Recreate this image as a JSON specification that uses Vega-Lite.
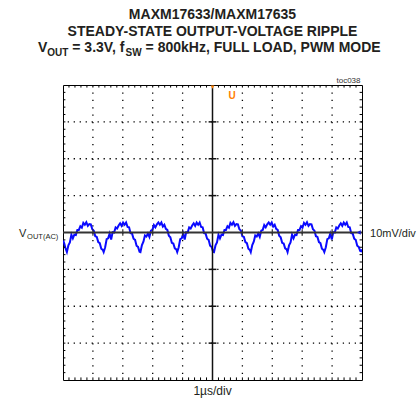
{
"$schema": "https://vega.github.io/schema/vega-lite/v6.json",
"width": 299, "height": 295,
"autosize": {"type": "none"},
"padding": {"left": 63, "top": 85, "right": 56, "bottom": 26},
"background": "#ffffff",
"config": {"view": {"stroke": "#000000", "strokeWidth": 1}},
"datasets": {
"wave": [
{"t":0,"v":-2.0},{"t":0.04,"v":-2.9},{"t":0.08,"v":-4.2},
{"t":0.13,"v":-5.3},{"t":0.18,"v":-3.5},{"t":0.23,"v":-2.7},{"t":0.28,"v":-0.6},{"t":0.33,"v":-1.6},{"t":0.38,"v":-0.6},{"t":0.43,"v":-0.7},{"t":0.48,"v":0.7},{"t":0.53,"v":0.7},{"t":0.58,"v":1.7},{"t":0.63,"v":1.3},{"t":0.68,"v":2.6},{"t":0.73,"v":2.1},{"t":0.78,"v":2.8},{"t":0.83,"v":1.8},{"t":0.88,"v":2.3},{"t":0.93,"v":2.2},{"t":0.98,"v":0.9},{"t":1.03,"v":0.5},{"t":1.08,"v":-1.0},{"t":1.13,"v":-1.2},{"t":1.18,"v":-2.6},{"t":1.23,"v":-2.9},{"t":1.28,"v":-4.4},{"t":1.33,"v":-4.7},
{"t":1.36,"v":-5.3},{"t":1.41,"v":-4.0},{"t":1.46,"v":-1.8},{"t":1.51,"v":-1.6},{"t":1.56,"v":-0.3},{"t":1.61,"v":-1.9},{"t":1.66,"v":0.1},{"t":1.71,"v":0.0},{"t":1.76,"v":1.4},{"t":1.81,"v":1.1},{"t":1.86,"v":1.9},{"t":1.91,"v":2.5},{"t":1.96,"v":1.8},{"t":2.01,"v":2.7},{"t":2.06,"v":2.1},{"t":2.11,"v":2.7},{"t":2.16,"v":1.5},{"t":2.21,"v":1.4},{"t":2.26,"v":-0.2},{"t":2.31,"v":-0.3},{"t":2.36,"v":-1.7},{"t":2.41,"v":-2.0},{"t":2.46,"v":-3.6},{"t":2.51,"v":-3.9},{"t":2.56,"v":-5.2},
{"t":2.59,"v":-5.3},{"t":2.64,"v":-3.4},{"t":2.69,"v":-2.5},{"t":2.74,"v":-0.8},{"t":2.79,"v":-1.1},{"t":2.84,"v":-0.3},{"t":2.89,"v":-1.2},{"t":2.94,"v":0.5},{"t":2.99,"v":0.7},{"t":3.04,"v":2.0},{"t":3.09,"v":1.4},{"t":3.14,"v":2.2},{"t":3.19,"v":2.7},{"t":3.24,"v":2.1},{"t":3.29,"v":2.7},{"t":3.34,"v":1.6},{"t":3.39,"v":2.1},{"t":3.44,"v":1.0},{"t":3.49,"v":0.7},{"t":3.54,"v":-0.9},{"t":3.59,"v":-1.3},{"t":3.64,"v":-2.8},{"t":3.69,"v":-3.0},{"t":3.74,"v":-4.3},{"t":3.79,"v":-4.6},
{"t":3.82,"v":-5.3},{"t":3.87,"v":-4.0},{"t":3.92,"v":-1.8},{"t":3.97,"v":-1.6},{"t":4.02,"v":-0.3},{"t":4.07,"v":-1.9},{"t":4.12,"v":0.1},{"t":4.17,"v":0.0},{"t":4.22,"v":1.4},{"t":4.27,"v":1.1},{"t":4.32,"v":1.9},{"t":4.37,"v":2.5},{"t":4.42,"v":1.8},{"t":4.47,"v":2.7},{"t":4.52,"v":2.1},{"t":4.57,"v":2.7},{"t":4.62,"v":1.5},{"t":4.67,"v":1.4},{"t":4.72,"v":-0.2},{"t":4.77,"v":-0.3},{"t":4.82,"v":-1.7},{"t":4.87,"v":-2.0},{"t":4.92,"v":-3.6},{"t":4.97,"v":-3.9},{"t":5.02,"v":-5.2},
{"t":5.05,"v":-5.3},{"t":5.10,"v":-3.5},{"t":5.15,"v":-2.7},{"t":5.20,"v":-0.6},{"t":5.25,"v":-1.6},{"t":5.30,"v":-0.6},{"t":5.35,"v":-0.7},{"t":5.40,"v":0.7},{"t":5.45,"v":0.7},{"t":5.50,"v":1.7},{"t":5.55,"v":1.3},{"t":5.60,"v":2.6},{"t":5.65,"v":2.1},{"t":5.70,"v":2.8},{"t":5.75,"v":1.8},{"t":5.80,"v":2.3},{"t":5.85,"v":2.2},{"t":5.90,"v":0.9},{"t":5.95,"v":0.5},{"t":6.00,"v":-1.0},{"t":6.05,"v":-1.2},{"t":6.10,"v":-2.6},{"t":6.15,"v":-2.9},{"t":6.20,"v":-4.4},{"t":6.25,"v":-4.7},
{"t":6.28,"v":-5.3},{"t":6.33,"v":-3.4},{"t":6.38,"v":-2.5},{"t":6.43,"v":-0.8},{"t":6.48,"v":-1.1},{"t":6.53,"v":-0.3},{"t":6.58,"v":-1.2},{"t":6.63,"v":0.5},{"t":6.68,"v":0.7},{"t":6.73,"v":2.0},{"t":6.78,"v":1.4},{"t":6.83,"v":2.2},{"t":6.88,"v":2.7},{"t":6.93,"v":2.1},{"t":6.98,"v":2.7},{"t":7.03,"v":1.6},{"t":7.08,"v":2.1},{"t":7.13,"v":1.0},{"t":7.18,"v":0.7},{"t":7.23,"v":-0.9},{"t":7.28,"v":-1.3},{"t":7.33,"v":-2.8},{"t":7.38,"v":-3.0},{"t":7.43,"v":-4.3},{"t":7.48,"v":-4.6},
{"t":7.51,"v":-5.3},{"t":7.56,"v":-3.5},{"t":7.61,"v":-2.7},{"t":7.66,"v":-0.6},{"t":7.71,"v":-1.6},{"t":7.76,"v":-0.6},{"t":7.81,"v":-0.7},{"t":7.86,"v":0.7},{"t":7.91,"v":0.7},{"t":7.96,"v":1.7},{"t":8.01,"v":1.3},{"t":8.06,"v":2.6},{"t":8.11,"v":2.1},{"t":8.16,"v":2.8},{"t":8.21,"v":1.8},{"t":8.26,"v":2.3},{"t":8.31,"v":2.2},{"t":8.36,"v":0.9},{"t":8.41,"v":0.5},{"t":8.46,"v":-1.0},{"t":8.51,"v":-1.2},{"t":8.56,"v":-2.6},{"t":8.61,"v":-2.9},{"t":8.66,"v":-4.4},{"t":8.71,"v":-4.7},
{"t":8.74,"v":-5.3},{"t":8.79,"v":-4.0},{"t":8.84,"v":-1.8},{"t":8.89,"v":-1.6},{"t":8.94,"v":-0.3},{"t":8.99,"v":-1.9},{"t":9.04,"v":0.1},{"t":9.09,"v":0.0},{"t":9.14,"v":1.4},{"t":9.19,"v":1.1},{"t":9.24,"v":1.9},{"t":9.29,"v":2.5},{"t":9.34,"v":1.8},{"t":9.39,"v":2.7},{"t":9.44,"v":2.1},{"t":9.49,"v":2.7},{"t":9.54,"v":1.5},{"t":9.59,"v":1.4},{"t":9.64,"v":-0.2},{"t":9.69,"v":-0.3},{"t":9.74,"v":-1.7},{"t":9.79,"v":-2.0},{"t":9.84,"v":-3.6},{"t":9.89,"v":-3.9},{"t":9.94,"v":-5.0},
{"t":9.97,"v":-5.1},{"t":10.0,"v":-4.6}
],
"xs": [{"t":0.2},{"t":0.4},{"t":0.6},{"t":0.8},{"t":1},{"t":1.2},{"t":1.4},{"t":1.6},{"t":1.8},{"t":2},{"t":2.2},{"t":2.4},{"t":2.6},{"t":2.8},{"t":3},{"t":3.2},{"t":3.4},{"t":3.6},{"t":3.8},{"t":4},{"t":4.2},{"t":4.4},{"t":4.6},{"t":4.8},{"t":5},{"t":5.2},{"t":5.4},{"t":5.6},{"t":5.8},{"t":6},{"t":6.2},{"t":6.4},{"t":6.6},{"t":6.8},{"t":7},{"t":7.2},{"t":7.4},{"t":7.6},{"t":7.8},{"t":8},{"t":8.2},{"t":8.4},{"t":8.6},{"t":8.8},{"t":9},{"t":9.2},{"t":9.4},{"t":9.6},{"t":9.8}],
"ys": [{"v":-38},{"v":-36},{"v":-34},{"v":-32},{"v":-30},{"v":-28},{"v":-26},{"v":-24},{"v":-22},{"v":-20},{"v":-18},{"v":-16},{"v":-14},{"v":-12},{"v":-10},{"v":-8},{"v":-6},{"v":-4},{"v":-2},{"v":0},{"v":2},{"v":4},{"v":6},{"v":8},{"v":10},{"v":12},{"v":14},{"v":16},{"v":18},{"v":20},{"v":22},{"v":24},{"v":26},{"v":28},{"v":30},{"v":32},{"v":34},{"v":36},{"v":38}],
"xmaj": [{"t":1},{"t":2},{"t":3},{"t":4},{"t":6},{"t":7},{"t":8},{"t":9}],
"ymaj": [{"v":-30},{"v":-20},{"v":-10},{"v":10},{"v":20},{"v":30}]
},
"layer": [
{
"data": {"name": "xmaj"},
"mark": {"type": "rule", "color": "#000000", "strokeWidth": 1.3, "strokeDash": [1.3, 6.075]},
"encoding": {
"x": {"field": "t", "type": "quantitative", "scale": {"domain": [0, 10], "nice": false, "zero": false}, "axis": null}
}
},
{
"data": {"name": "ymaj"},
"mark": {"type": "rule", "color": "#000000", "strokeWidth": 1.3, "strokeDash": [1.3, 4.68]},
"encoding": {
"y": {"field": "v", "type": "quantitative", "scale": {"domain": [-40, 40], "nice": false, "zero": false}, "axis": null}
}
},
{
"data": {"name": "wave"},
"mark": {"type": "line", "color": "#0a0aff", "strokeWidth": 2, "clip": true},
"encoding": {
"x": {"field": "t", "type": "quantitative", "scale": {"domain": [0, 10], "nice": false, "zero": false}, "axis": null},
"y": {"field": "v", "type": "quantitative", "scale": {"domain": [-40, 40], "nice": false, "zero": false}, "axis": null}
}
},
{
"data": {"name": "xs"},
"mark": {"type": "rule", "color": "#000000", "strokeWidth": 1},
"encoding": {
"x": {"field": "t", "type": "quantitative", "scale": {"domain": [0, 10], "nice": false, "zero": false}, "axis": null},
"y": {"datum": 40, "type": "quantitative", "scale": {"domain": [-40, 40], "nice": false, "zero": false}, "axis": null},
"y2": {"datum": 39.3}
}
},
{
"data": {"name": "xs"},
"mark": {"type": "rule", "color": "#000000", "strokeWidth": 1},
"encoding": {
"x": {"field": "t", "type": "quantitative", "scale": {"domain": [0, 10], "nice": false, "zero": false}, "axis": null},
"y": {"datum": -40, "type": "quantitative", "scale": {"domain": [-40, 40], "nice": false, "zero": false}, "axis": null},
"y2": {"datum": -39.3}
}
},
{
"data": {"name": "ys"},
"mark": {"type": "rule", "color": "#000000", "strokeWidth": 1},
"encoding": {
"y": {"field": "v", "type": "quantitative", "scale": {"domain": [-40, 40], "nice": false, "zero": false}, "axis": null},
"x": {"datum": 0, "type": "quantitative", "scale": {"domain": [0, 10], "nice": false, "zero": false}, "axis": null},
"x2": {"datum": 0.08}
}
},
{
"data": {"name": "ys"},
"mark": {"type": "rule", "color": "#000000", "strokeWidth": 1},
"encoding": {
"y": {"field": "v", "type": "quantitative", "scale": {"domain": [-40, 40], "nice": false, "zero": false}, "axis": null},
"x": {"datum": 10, "type": "quantitative", "scale": {"domain": [0, 10], "nice": false, "zero": false}, "axis": null},
"x2": {"datum": 9.92}
}
},
{
"data": {"values": [{}]},
"mark": {"type": "rule", "color": "#111111", "strokeWidth": 1.5},
"encoding": {"x": {"datum": 5, "type": "quantitative", "scale": {"domain": [0, 10], "nice": false, "zero": false}, "axis": null}}
},
{
"data": {"values": [{}]},
"mark": {"type": "rule", "color": "#333333", "strokeWidth": 1.8},
"encoding": {"y": {"datum": 0, "type": "quantitative", "scale": {"domain": [-40, 40], "nice": false, "zero": false}, "axis": null}}
},
{
"data": {"name": "ymaj"},
"mark": {"type": "rule", "color": "#111111", "strokeWidth": 1.5},
"encoding": {
"y": {"field": "v", "type": "quantitative", "scale": {"domain": [-40, 40], "nice": false, "zero": false}, "axis": null},
"x": {"datum": 4.87, "type": "quantitative", "scale": {"domain": [0, 10], "nice": false, "zero": false}, "axis": null},
"x2": {"datum": 5.13}
}
},
{
"data": {"name": "xmaj"},
"mark": {"type": "rule", "color": "#333333", "strokeWidth": 1.2},
"encoding": {
"x": {"field": "t", "type": "quantitative", "scale": {"domain": [0, 10], "nice": false, "zero": false}, "axis": null},
"y": {"datum": -0.9, "type": "quantitative", "scale": {"domain": [-40, 40], "nice": false, "zero": false}, "axis": null},
"y2": {"datum": 0.9}
}
},
{
"data": {"values": [{"t": 5, "v": 39.4}]},
"mark": {"type": "point", "shape": "triangle-down", "filled": true, "color": "#ff8000", "size": 14, "opacity": 1},
"encoding": {
"x": {"field": "t", "type": "quantitative", "scale": {"domain": [0, 10], "nice": false, "zero": false}, "axis": null},
"y": {"field": "v", "type": "quantitative", "scale": {"domain": [-40, 40], "nice": false, "zero": false}, "axis": null}
}
},
{
"data": {"values": [{"t": 9.89, "v": 0}]},
"mark": {"type": "point", "shape": "triangle-left", "filled": true, "color": "#1a1acc", "size": 22, "opacity": 1},
"encoding": {
"x": {"field": "t", "type": "quantitative", "scale": {"domain": [0, 10], "nice": false, "zero": false}, "axis": null},
"y": {"field": "v", "type": "quantitative", "scale": {"domain": [-40, 40], "nice": false, "zero": false}, "axis": null}
}
},
{
"data": {"values": [{"t": 5.66, "v": 36.3, "text": "U"}]},
"mark": {"type": "text", "font": "Liberation Sans", "fontSize": 10, "fontWeight": "bold", "color": "#ff8000", "align": "center", "baseline": "alphabetic"},
"encoding": {
"x": {"field": "t", "type": "quantitative", "scale": {"domain": [0, 10], "nice": false, "zero": false}, "axis": null},
"y": {"field": "v", "type": "quantitative", "scale": {"domain": [-40, 40], "nice": false, "zero": false}, "axis": null},
"text": {"field": "text"}
}
},
{
"data": {"values": [{"t": 5, "v": 57.9, "text": "MAXM17633/MAXM17635"}, {"t": 5, "v": 53.42, "text": "STEADY-STATE OUTPUT-VOLTAGE RIPPLE"}]},
"mark": {"type": "text", "font": "Liberation Sans", "fontSize": 14, "fontWeight": "bold", "color": "#231f20", "align": "center", "baseline": "alphabetic"},
"encoding": {
"x": {"field": "t", "type": "quantitative", "scale": {"domain": [0, 10], "nice": false, "zero": false}, "axis": null},
"y": {"field": "v", "type": "quantitative", "scale": {"domain": [-40, 40], "nice": false, "zero": false}, "axis": null},
"text": {"field": "text"}
}
},
{
"data": {"values": [{"t": -0.836, "v": 48.95, "text": "V"}, {"t": 0.311, "v": 48.95, "text": "= 3.3V, f"}, {"t": 2.763, "v": 48.95, "text": "= 800kHz, FULL LOAD, PWM MODE"}]},
"mark": {"type": "text", "font": "Liberation Sans", "fontSize": 14, "fontWeight": "bold", "color": "#231f20", "align": "left", "baseline": "alphabetic"},
"encoding": {
"x": {"field": "t", "type": "quantitative", "scale": {"domain": [0, 10], "nice": false, "zero": false}, "axis": null},
"y": {"field": "v", "type": "quantitative", "scale": {"domain": [-40, 40], "nice": false, "zero": false}, "axis": null},
"text": {"field": "text"}
}
},
{
"data": {"values": [{"t": -0.525, "v": 47.86, "text": "OUT"}, {"t": 2.094, "v": 47.86, "text": "SW"}]},
"mark": {"type": "text", "font": "Liberation Sans", "fontSize": 10, "fontWeight": "bold", "color": "#231f20", "align": "left", "baseline": "alphabetic"},
"encoding": {
"x": {"field": "t", "type": "quantitative", "scale": {"domain": [0, 10], "nice": false, "zero": false}, "axis": null},
"y": {"field": "v", "type": "quantitative", "scale": {"domain": [-40, 40], "nice": false, "zero": false}, "axis": null},
"text": {"field": "text"}
}
},
{
"data": {"values": [{"t": 9.95, "v": 40.6, "text": "toc038"}]},
"mark": {"type": "text", "font": "Liberation Sans", "fontSize": 8, "color": "#333333", "align": "right", "baseline": "alphabetic"},
"encoding": {
"x": {"field": "t", "type": "quantitative", "scale": {"domain": [0, 10], "nice": false, "zero": false}, "axis": null},
"y": {"field": "v", "type": "quantitative", "scale": {"domain": [-40, 40], "nice": false, "zero": false}, "axis": null},
"text": {"field": "text"}
}
},
{
"data": {"values": [{"t": -1.472, "v": -1.22, "text": "V"}, {"t": 10.268, "v": -1.22, "text": "10mV/div"}]},
"mark": {"type": "text", "font": "Liberation Sans", "fontSize": 11, "color": "#231f20", "align": "left", "baseline": "alphabetic"},
"encoding": {
"x": {"field": "t", "type": "quantitative", "scale": {"domain": [0, 10], "nice": false, "zero": false}, "axis": null},
"y": {"field": "v", "type": "quantitative", "scale": {"domain": [-40, 40], "nice": false, "zero": false}, "axis": null},
"text": {"field": "text"}
}
},
{
"data": {"values": [{"t": -1.2, "v": -1.76, "text": "OUT(AC)"}]},
"mark": {"type": "text", "font": "Liberation Sans", "fontSize": 7.5, "color": "#231f20", "align": "left", "baseline": "alphabetic"},
"encoding": {
"x": {"field": "t", "type": "quantitative", "scale": {"domain": [0, 10], "nice": false, "zero": false}, "axis": null},
"y": {"field": "v", "type": "quantitative", "scale": {"domain": [-40, 40], "nice": false, "zero": false}, "axis": null},
"text": {"field": "text"}
}
},
{
"data": {"values": [{"t": 5, "v": -44.0, "text": "1µs/div"}]},
"mark": {"type": "text", "font": "Liberation Sans", "fontSize": 12, "color": "#231f20", "align": "center", "baseline": "alphabetic"},
"encoding": {
"x": {"field": "t", "type": "quantitative", "scale": {"domain": [0, 10], "nice": false, "zero": false}, "axis": null},
"y": {"field": "v", "type": "quantitative", "scale": {"domain": [-40, 40], "nice": false, "zero": false}, "axis": null},
"text": {"field": "text"}
}
}
]
}
